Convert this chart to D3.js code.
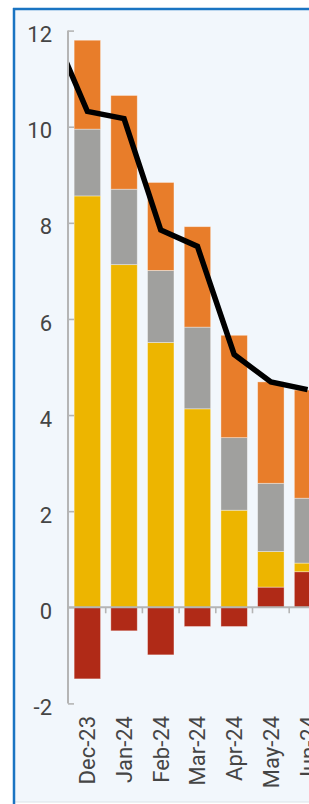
<!DOCTYPE html>
<html>
<head>
<meta charset="utf-8">
<script src="https://cdn.jsdelivr.net/npm/d3@7"></script>
<style>
  html, body { margin: 0; padding: 0; background: #fff; overflow: hidden; }
  svg { display: block; }
  text { font-family: Roboto, "Noto Sans", sans-serif; }
</style>
</head>
<body>
<svg id="chart"></svg>
<script>
// categories and series
const months = ['Dec-23', 'Jan-24', 'Feb-24', 'Mar-24', 'Apr-24', 'May-24', 'Jun-24'];
const redVals = [-1.49, -0.49, -0.99, -0.40, -0.40, 0.42, 0.74];
const yellowVals = [8.56, 7.13, 5.51, 4.13, 2.02, 0.74, 0.18];
const grayVals = [1.39, 1.57, 1.50, 1.70, 1.51, 1.42, 1.35];
const orangeVals = [1.85, 1.95, 1.83, 2.09, 2.13, 2.11, 2.25];
// net total line; the first point (previous month) sits left of the plot and is clipped
const lineMonths = ['Nov-23', 'Dec-23', 'Jan-24', 'Feb-24', 'Mar-24', 'Apr-24', 'May-24', 'Jun-24'];
const totalVals = [12.1, 10.32, 10.17, 7.85, 7.51, 5.26, 4.69, 4.53];
const yTicks = [-2, 0, 2, 4, 6, 8, 10, 12];

const keys = ['red', 'yellow', 'gray', 'orange'];
const colors = { red: '#b02a17', yellow: '#edb500', gray: '#a0a09e', orange: '#e87d2a' };

const W = 309, H = 804;
const svg = d3.select('#chart').attr('width', W).attr('height', H);

// panel background + frame
svg.append('rect')
  .attr('x', 14).attr('y', 9).attr('width', W).attr('height', 793)
  .attr('fill', '#f2f7fc');
svg.append('line')
  .attr('x1', 14).attr('x2', W).attr('y1', 802).attr('y2', 802)
  .attr('stroke', '#dde2e8').attr('stroke-width', 1);
svg.append('line')
  .attr('x1', 14).attr('x2', 14).attr('y1', 8).attr('y2', 804)
  .attr('stroke', '#1a74c2').attr('stroke-width', 2.5);
svg.append('line')
  .attr('x1', 13).attr('x2', W).attr('y1', 9).attr('y2', 9)
  .attr('stroke', '#1a74c2').attr('stroke-width', 2.5);

// scales
const x = d3.scaleBand()
  .domain(months)
  .range([69, 69 + 36.7 * months.length])
  .paddingInner(0.28)
  .paddingOuter(0.14);

const y = d3.scaleLinear()
  .domain([-2, 12])
  .range([703.4, 30.6]);

const rows = months.map((m, i) => ({
  month: m, red: redVals[i], yellow: yellowVals[i], gray: grayVals[i], orange: orangeVals[i]
}));

const stacked = d3.stack()
  .keys(keys)
  .offset(d3.stackOffsetDiverging)(rows);

// bars
svg.append('g')
  .selectAll('g')
  .data(stacked)
  .join('g')
  .attr('fill', d => colors[d.key])
  .selectAll('rect')
  .data(d => d)
  .join('rect')
  .attr('x', d => x(d.data.month))
  .attr('width', x.bandwidth())
  .attr('y', d => y(Math.max(d[0], d[1])))
  .attr('height', d => Math.abs(y(d[0]) - y(d[1])))
  .attr('stroke', 'rgba(255,255,255,0.45)')
  .attr('stroke-width', 0.8);

// y axis
const yAxis = svg.append('g')
  .attr('transform', 'translate(68,0)')
  .call(d3.axisRight(y).tickValues(yTicks).tickSize(6).tickFormat(''));
yAxis.select('.domain').attr('stroke', '#b5b5b5').attr('stroke-width', 2)
  .attr('d', `M0,${y(12)}V${y(-2)}`);
yAxis.selectAll('.tick line').attr('stroke', '#b5b5b5').attr('stroke-width', 1.6);

svg.append('g')
  .selectAll('text')
  .data(yTicks)
  .join('text')
  .attr('x', 52)
  .attr('y', d => y(d))
  .attr('dy', '0.53em')
  .attr('text-anchor', 'end')
  .attr('font-size', 22)
  .attr('fill', '#454545')
  .text(d => d);

// x axis at zero with boundary ticks
const boundaries = months.map(m => x(m) - x.step() * x.paddingInner() / 2).slice(1);
const xAxis = svg.append('g');
xAxis.append('line')
  .attr('x1', 68).attr('x2', W + 20)
  .attr('y1', y(0)).attr('y2', y(0))
  .attr('stroke', '#b5b5b5').attr('stroke-width', 2);
xAxis.selectAll('.bt')
  .data(boundaries)
  .join('line')
  .attr('class', 'bt')
  .attr('x1', d => d).attr('x2', d => d)
  .attr('y1', y(0)).attr('y2', y(0) + 6)
  .attr('stroke', '#b5b5b5').attr('stroke-width', 1.6);

// x labels
svg.append('g')
  .selectAll('text')
  .data(months)
  .join('text')
  .attr('transform', d => `translate(${x(d) + x.bandwidth() / 2 + 8},716) rotate(-90)`)
  .attr('text-anchor', 'end')
  .attr('font-size', 22)
  .attr('fill', '#454545')
  .text(d => d);

// total line (clipped to plot area)
svg.append('clipPath').attr('id', 'plotclip')
  .append('rect')
  .attr('x', 69).attr('y', 0).attr('width', W).attr('height', H);

const lineX = (m) => m === 'Nov-23'
  ? x('Dec-23') + x.bandwidth() / 2 - x.step()
  : x(m) + x.bandwidth() / 2;

const line = d3.line()
  .x((d, i) => lineX(lineMonths[i]))
  .y(d => y(d));

svg.append('path')
  .datum(totalVals)
  .attr('clip-path', 'url(#plotclip)')
  .attr('fill', 'none')
  .attr('stroke', '#000')
  .attr('stroke-width', 5.5)
  .attr('stroke-linejoin', 'miter')
  .attr('d', line);
</script>
</body>
</html>
